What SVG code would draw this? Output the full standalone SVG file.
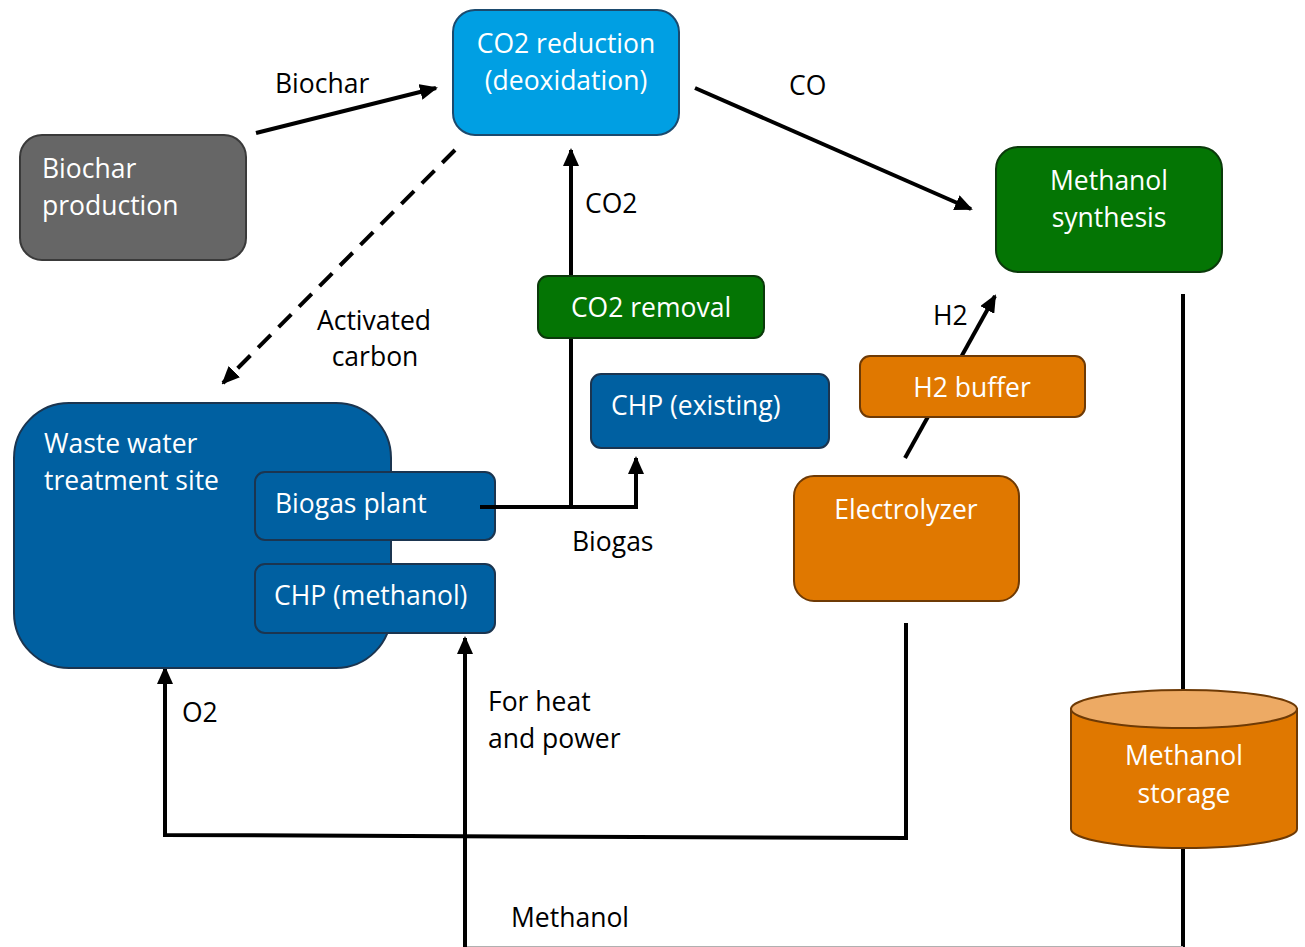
<svg xmlns="http://www.w3.org/2000/svg" width="1305" height="947" viewBox="0 0 1305 947">
<style>
.t{font-family:"Open Sans","Liberation Sans",sans-serif;font-size:26.5px;}
.w{fill:#ffffff;}
.k{fill:#000000;}
.c{text-anchor:middle;}
.ln{stroke:#000;stroke-width:4;fill:none;}
.blue{fill:#0060A1;stroke:#1b3550;stroke-width:2;}
.green{fill:#047504;stroke:#0b3a0b;stroke-width:2;}
.orange{fill:#E07800;stroke:#6e3a05;stroke-width:2;}
</style>
<defs>
<marker id="ah" markerUnits="userSpaceOnUse" markerWidth="18" markerHeight="16" viewBox="0 0 18 16" refX="16" refY="8" orient="auto">
<path d="M0,0 L18,8 L0,16 z" fill="#000"/>
</marker>
</defs>
<rect width="1305" height="947" fill="#fff"/>
<g id="connectors">
<line class="ln" x1="256" y1="133" x2="436" y2="88" marker-end="url(#ah)"/>
<line class="ln" x1="695" y1="88" x2="971" y2="209" marker-end="url(#ah)"/>
<line class="ln" x1="455" y1="150" x2="223" y2="383" stroke-dasharray="18,11" marker-end="url(#ah)"/>
<line class="ln" x1="571" y1="507" x2="571" y2="150" stroke-width="3" marker-end="url(#ah)"/>
<polyline class="ln" points="495,507 636,507 636,458" marker-end="url(#ah)"/>
<line class="ln" x1="905" y1="458" x2="995" y2="296" marker-end="url(#ah)"/>
<polyline class="ln" points="906,623 906,838 165,835 165,668" marker-end="url(#ah)"/>
<line class="ln" x1="1183" y1="294" x2="1183" y2="700" stroke-width="3"/>
<line class="ln" x1="1183" y1="840" x2="1183" y2="947" stroke-width="3"/>
<line x1="465" y1="946.5" x2="1183" y2="946.5" stroke="#b0b0b0" stroke-width="1"/>
<line class="ln" x1="465" y1="947" x2="465" y2="638" stroke-width="3" marker-end="url(#ah)"/>
</g>
<g id="co2-reduction">
<rect x="453" y="10" width="226" height="125" rx="22" fill="#009FE3" stroke="#1b4a6e" stroke-width="2"/>
<text class="t w c" x="566" y="53">CO2 reduction</text>
<text class="t w c" x="566" y="90">(deoxidation)</text>
</g>
<g id="biochar-production">
<rect x="20" y="135" width="226" height="125" rx="22" fill="#666666" stroke="#3a3a3a" stroke-width="2"/>
<text class="t w" x="42" y="178">Biochar</text>
<text class="t w" x="42" y="215">production</text>
</g>
<g id="methanol-synthesis">
<rect class="green" x="996" y="147" width="226" height="125" rx="22"/>
<text class="t w c" x="1109" y="190">Methanol</text>
<text class="t w c" x="1109" y="227">synthesis</text>
</g>
<g id="co2-removal">
<rect class="green" x="538" y="276" width="226" height="62" rx="10"/>
<text class="t w c" x="651" y="317">CO2 removal</text>
</g>
<g id="chp-existing">
<rect class="blue" x="591" y="374" width="238" height="74" rx="10"/>
<text class="t w" x="611" y="415">CHP (existing)</text>
</g>
<g id="h2-buffer">
<rect class="orange" x="860" y="356" width="225" height="61" rx="10"/>
<text class="t w c" x="972" y="397">H2 buffer</text>
</g>
<g id="electrolyzer">
<rect class="orange" x="794" y="476" width="225" height="125" rx="20"/>
<text class="t w c" x="906" y="519">Electrolyzer</text>
</g>
<g id="wwtp">
<rect class="blue" x="14" y="403" width="377" height="265" rx="55"/>
<text class="t w" x="44" y="453">Waste water</text>
<text class="t w" x="44" y="490">treatment site</text>
</g>
<g id="biogas-plant">
<rect class="blue" x="255" y="472" width="240" height="68" rx="10"/>
<text class="t w" x="275" y="513">Biogas plant</text>
<line class="ln" x1="480" y1="507" x2="496" y2="507"/>
</g>
<g id="chp-methanol">
<rect class="blue" x="255" y="564" width="240" height="69" rx="10"/>
<text class="t w" x="274" y="605">CHP (methanol)</text>
</g>
<g id="methanol-storage">
<path d="M1071,709 L1071,829 A113,19 0 0 0 1297,829 L1297,709 Z" class="orange"/>
<ellipse cx="1184" cy="709" rx="113" ry="19" fill="#EDAA64" stroke="#6e3a05" stroke-width="2"/>
<text class="t w c" x="1184" y="765">Methanol</text>
<text class="t w c" x="1184" y="803">storage</text>
</g>
<g id="labels">
<text class="t k" x="275" y="93">Biochar</text>
<text class="t k" x="789" y="95">CO</text>
<text class="t k" x="585" y="213">CO2</text>
<text class="t k c" x="374" y="330">Activated</text>
<text class="t k c" x="375" y="366">carbon</text>
<text class="t k" x="933" y="325">H2</text>
<text class="t k" x="572" y="551">Biogas</text>
<text class="t k" x="182" y="722">O2</text>
<text class="t k" x="488" y="711">For heat</text>
<text class="t k" x="488" y="748">and power</text>
<text class="t k" x="511" y="927">Methanol</text>
</g>
</svg>
